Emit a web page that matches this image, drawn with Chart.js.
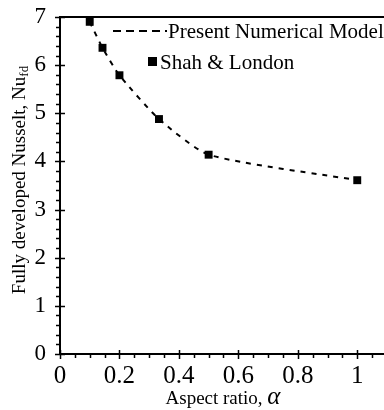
<!DOCTYPE html>
<html>
<head>
<meta charset="utf-8">
<script src="https://cdn.jsdelivr.net/npm/chart.js@4/dist/chart.umd.min.js"></script>
<style>
  html, body { margin: 0; padding: 0; background: #fff; }
  #wrap { width: 384px; height: 410px; }
</style>
</head>
<body>
<div id="wrap"><canvas id="nusseltChart"></canvas></div>
<script>
// duct aspect ratio and fully developed Nusselt number
const aspectRatio = [0.1, 0.143, 0.2, 0.333, 0.5, 1.0];
const numericalNu = [6.9, 6.36, 5.79, 4.88, 4.14, 3.61];
const shahLondonNu = [6.9, 6.36, 5.79, 4.88, 4.14, 3.61];

const xMajorStep = 0.2, xMinorStep = 0.05;
const yMajorStep = 1, yMinorStep = 0.2;

const serif = '"Liberation Serif", "DejaVu Serif", serif';

const toPoints = (xs, ys) => xs.map((v, i) => ({ x: v, y: ys[i] }));

// keep the chart area where the figure has it, ignoring label overflow
const fixBox = (s, size) => {
  if (s.isHorizontal()) s.height = size; else s.width = size;
  s.paddingTop = 0; s.paddingBottom = 0;
  s.paddingLeft = 0; s.paddingRight = 0;
};

// tick marks, top frame line, legend and axis titles
const decorations = {
  id: 'decorations',
  afterDraw(chart) {
    const { ctx, chartArea: a, scales: { x, y } } = chart;
    ctx.save();
    ctx.strokeStyle = '#000';
    ctx.fillStyle = '#000';

    ctx.lineWidth = 2;
    ctx.beginPath();
    ctx.moveTo(a.left, a.top);
    ctx.lineTo(a.right, a.top);
    ctx.stroke();

    ctx.lineWidth = 1.5;
    ctx.beginPath();
    const nx = Math.floor((x.max - x.min) / xMinorStep + 1e-6);
    for (let i = 0; i <= nx; i++) {
      const v = x.min + i * xMinorStep;
      const px = Math.round(x.getPixelForValue(v)) + 0.5;
      const major = i % Math.round(xMajorStep / xMinorStep) === 0;
      ctx.moveTo(px, a.bottom - (major ? 4 : 0));
      ctx.lineTo(px, a.bottom + (major ? 5 : 4));
    }
    const ny = Math.round((y.max - y.min) / yMinorStep);
    for (let i = 0; i <= ny; i++) {
      const v = y.min + i * yMinorStep;
      const py = Math.round(y.getPixelForValue(v)) + 0.5;
      const major = i % Math.round(yMajorStep / yMinorStep) === 0;
      ctx.moveTo(a.left - (major ? 5 : 4), py);
      ctx.lineTo(a.left + (major ? 5 : 0), py);
    }
    ctx.stroke();

    // legend
    const ds = chart.data.datasets;
    ctx.font = '21px ' + serif;
    ctx.textBaseline = 'alphabetic';
    ctx.lineWidth = 2;
    ctx.setLineDash([8, 5]);
    ctx.beginPath();
    ctx.moveTo(113, 31);
    ctx.lineTo(167, 31);
    ctx.stroke();
    ctx.setLineDash([]);
    ctx.fillText(ds[0].label, 168, 38);
    ctx.fillRect(148, 57, 9, 9);
    ctx.fillText(ds[1].label, 160, 69);

    // x title
    const xt = 'Aspect ratio, ';
    ctx.font = '19px ' + serif;
    const w1 = ctx.measureText(xt).width;
    ctx.font = 'italic 25px ' + serif;
    const w2 = ctx.measureText('\u03b1').width;
    let sx = 223 - (w1 + w2) / 2;
    ctx.font = '19px ' + serif;
    ctx.fillText(xt, sx, 404);
    ctx.font = 'italic 25px ' + serif;
    ctx.fillText('\u03b1', sx + w1, 404);

    // y title with subscript
    const yt = 'Fully developed Nusselt, Nu';
    ctx.translate(25, 180);
    ctx.rotate(-Math.PI / 2);
    ctx.font = '19px ' + serif;
    const m1 = ctx.measureText(yt).width;
    ctx.font = '13px ' + serif;
    const m2 = ctx.measureText('fd').width;
    const sy = -(m1 + m2) / 2;
    ctx.font = '19px ' + serif;
    ctx.fillText(yt, sy, 0);
    ctx.font = '13px ' + serif;
    ctx.fillText('fd', sy + m1, 3);
    ctx.restore();
  }
};

new Chart(document.getElementById('nusseltChart'), {
  type: 'scatter',
  data: {
    datasets: [
      {
        type: 'line',
        label: 'Present Numerical Model',
        data: toPoints(aspectRatio, numericalNu),
        borderColor: '#000',
        borderWidth: 2,
        borderDash: [5, 6],
        pointRadius: 0,
        tension: 0.2,
        fill: false
      },
      {
        label: 'Shah & London',
        data: toPoints(aspectRatio, shahLondonNu),
        backgroundColor: '#000',
        borderColor: '#000',
        pointStyle: 'rect',
        pointRadius: 5.6,
        borderWidth: 0
      }
    ]
  },
  options: {
    responsive: true,
    maintainAspectRatio: false,
    animation: false,
    layout: { autoPadding: false, padding: { top: 17, left: 0, right: 0, bottom: 0 } },
    plugins: { legend: { display: false }, tooltip: { enabled: false } },
    scales: {
      x: {
        type: 'linear',
        min: 0,
        max: 1.09,
        afterFit: s => fixBox(s, 56),
        grid: { display: false, drawTicks: false },
        border: { display: true, color: '#000', width: 2 },
        ticks: {
          stepSize: xMajorStep,
          includeBounds: false,
          maxRotation: 0,
          padding: 7,
          color: '#000',
          font: { family: serif, size: 25 },
          callback: v => String(Number(v.toFixed(2)))
        }
      },
      y: {
        type: 'linear',
        min: 0,
        max: 7,
        afterFit: s => fixBox(s, 60),
        grid: { display: false, drawTicks: false },
        border: { display: true, color: '#000', width: 2 },
        ticks: {
          stepSize: yMajorStep,
          padding: 14,
          color: '#000',
          font: { family: serif, size: 23 }
        }
      }
    }
  },
  plugins: [decorations]
});
</script>
</body>
</html>
